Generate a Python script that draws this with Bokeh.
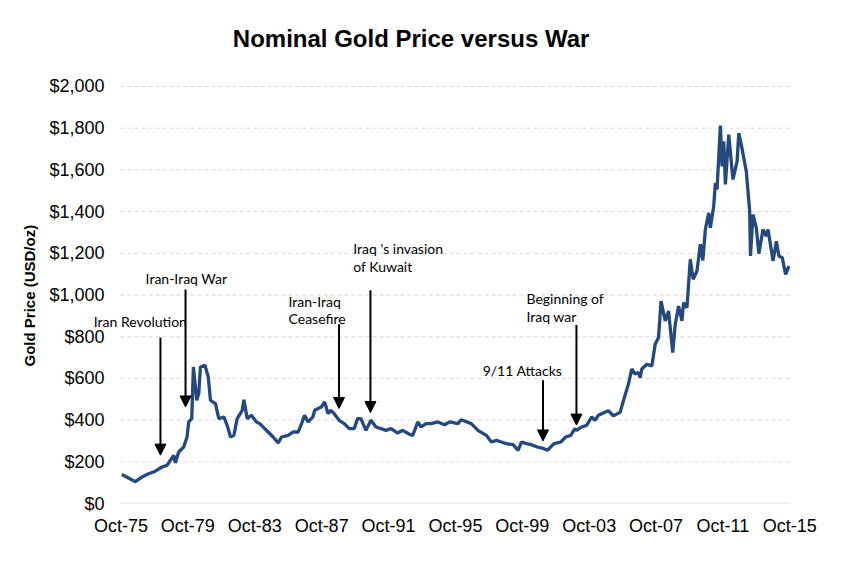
import numpy as np
from bokeh.plotting import figure
from bokeh.models import (Range1d, FixedTicker, NumeralTickFormatter, Label, Title,
                          Arrow, NormalHead, ColumnDataSource)
from bokeh.embed import file_html
from bokeh.resources import INLINE

START_YEAR = 1975.75  # Oct-75, first point of the series

# gold price (decimal year, USD/oz)
years = [
    1975.8, 1976.2, 1976.6, 1977.0, 1977.4, 1977.8, 1978.2, 1978.5, 1978.9, 1979.0,
    1979.2, 1979.5, 1979.7, 1979.8, 1979.98, 1980.08, 1980.28, 1980.4, 1980.5, 1980.77,
    1980.97, 1981.1, 1981.4, 1981.6, 1981.9, 1982.1, 1982.3, 1982.5, 1982.7, 1983.0,
    1983.1, 1983.3, 1983.55, 1983.85, 1984.05, 1984.55, 1984.85, 1985.15, 1985.35, 1985.75,
    1986.05, 1986.35, 1986.55, 1986.73, 1986.94, 1987.23, 1987.33, 1987.73, 1987.93, 1988.13,
    1988.3, 1988.5, 1988.8, 1989.1, 1989.4, 1989.7, 1989.9, 1990.1, 1990.4, 1990.7,
    1991.0, 1991.3, 1991.6, 1991.9, 1992.3, 1992.6, 1993.0, 1993.2, 1993.5, 1993.7,
    1994.0, 1994.3, 1994.7, 1995.1, 1995.4, 1995.9, 1996.1, 1996.7, 1997.1, 1997.6,
    1997.9, 1998.2, 1998.5, 1998.8, 1999.2, 1999.5, 1999.7, 2000.0, 2000.3, 2000.65,
    2001.05, 2001.25, 2001.65, 2002.05, 2002.35, 2002.65, 2002.9, 2003.0, 2003.3, 2003.6,
    2003.9, 2004.1, 2004.3, 2004.9, 2005.2, 2005.6, 2005.8, 2006.1, 2006.3, 2006.5,
    2006.7, 2006.8, 2006.9, 2007.2, 2007.5, 2007.7, 2007.9, 2008.05, 2008.3, 2008.5,
    2008.75, 2008.9, 2009.1, 2009.3, 2009.4, 2009.6, 2009.8, 2009.97, 2010.2, 2010.4,
    2010.55, 2010.7, 2010.9, 2011.0, 2011.2, 2011.3, 2011.4, 2011.6, 2011.7, 2011.8,
    2011.9, 2012.1, 2012.35, 2012.6, 2012.7, 2012.85, 2013.15, 2013.35, 2013.4, 2013.55,
    2013.75, 2013.9, 2014.15, 2014.35, 2014.45, 2014.75, 2014.95, 2015.1, 2015.3, 2015.5,
    2015.7,
]
prices = [
    139, 122, 105, 127, 143, 155, 175, 183, 231, 195,
    247, 271, 319, 391, 407, 655, 495, 527, 655, 663,
    607, 495, 479, 407, 415, 375, 319, 327, 407, 447,
    498, 407, 423, 391, 383, 343, 319, 290, 319, 327,
    343, 343, 383, 423, 391, 415, 447, 463, 487, 431,
    447, 431, 399, 383, 359, 359, 407, 407, 351, 399,
    367, 359, 351, 359, 338, 351, 332, 327, 391, 367,
    383, 383, 391, 378, 391, 383, 402, 383, 351, 327,
    295, 303, 295, 287, 282, 255, 295, 287, 282, 271,
    263, 255, 287, 295, 319, 327, 359, 351, 367, 375,
    415, 399, 423, 445, 421, 437, 493, 573, 645, 621,
    628, 604, 645, 668, 660, 764, 796, 971, 876, 923,
    724, 860, 947, 876, 963, 939, 1171, 1075, 1115, 1243,
    1166, 1314, 1394, 1322, 1426, 1537, 1506, 1813, 1617, 1737,
    1530, 1769, 1554, 1641, 1777, 1721, 1593, 1402, 1187, 1386,
    1322, 1198, 1314, 1282, 1314, 1163, 1258, 1187, 1179, 1099,
    1139,
]

tick_labels = ["Oct-75", "Oct-79", "Oct-83", "Oct-87", "Oct-91", "Oct-95",
               "Oct-99", "Oct-03", "Oct-07", "Oct-11", "Oct-15"]
y_ticks = [0, 200, 400, 600, 800, 1000, 1200, 1400, 1600, 1800, 2000]

# events: text lines, where the text sits (year, price of first line), arrow (year, top, tip)
event_text = [["Iran Revolution"], ["Iran-Iraq War"], ["Iran-Iraq", "Ceasefire"],
              ["Iraq 's invasion", " of Kuwait"], ["9/11 Attacks"], ["Beginning of", "Iraq war"]]
event_text_pos = [(1974.12, 871), (1977.22, 1079), (1985.77, 970),
                  (1989.64, 1223), (1997.38, 639), (2000.0, 983)]
arrow_year = [1978.11, 1979.61, 1988.79, 1990.67, 2000.99, 2002.99]
arrow_top = [796, 1026, 860, 1023, 591, 856]
arrow_tip = [232, 463, 456, 436, 300, 376]

LINE_COLOR = "#23497F"
GRID_COLOR = "#D9D9D9"
LINE_GAP = 85  # price units between two lines of an annotation
PLOT_X0, PLOT_X1 = 1975.72, 2015.8  # extent of the gridlines


def months(year):
    return (np.asarray(year, dtype=float) - START_YEAR) * 12


source = ColumnDataSource(data={'x': months(years), 'price': prices})

# the frame is larger than the gridded area (left and top) so the title and
# "Iran Revolution" can sit inside it without being clipped
p = figure(width=831, height=547, output_backend="svg", toolbar_location=None,
           x_range=Range1d(-23.33, 487.7), y_range=Range1d(0, 2316.5),
           min_border_left=88, min_border_right=31, min_border_top=20, min_border_bottom=44)
p.outline_line_color = None
p.background_fill_color = "white"
p.xgrid.grid_line_color = None
p.ygrid.grid_line_color = None

# gridlines, dashed, and a solid base line at $0
gx0, gx1 = float(months(PLOT_X0)), float(months(PLOT_X1))
grid_y = y_ticks[1:]
p.segment(x0=[gx0] * len(grid_y), y0=grid_y, x1=[gx1] * len(grid_y), y1=grid_y,
          line_color=GRID_COLOR, line_width=1, line_dash="4 3")
p.segment(x0=[gx0], y0=[y_ticks[0]], x1=[gx1], y1=[y_ticks[0]],
          line_color=GRID_COLOR, line_width=1.5)

p.line(x='x', y='price', source=source, line_width=3.3, color=LINE_COLOR)

# x axis
x_ticks = [48 * i for i in range(len(tick_labels))]
p.xaxis.ticker = FixedTicker(ticks=x_ticks)
p.xaxis.major_label_overrides = {t: lab for t, lab in zip(x_ticks, tick_labels)}
p.xaxis.axis_line_color = None
p.xaxis.major_label_standoff = 12

# y axis
p.yaxis.ticker = FixedTicker(ticks=y_ticks)
p.yaxis.formatter = NumeralTickFormatter(format="$0,0")
p.yaxis.axis_line_color = None
p.yaxis.major_label_standoff = -16

for ax in (p.xaxis, p.yaxis):
    ax.major_tick_line_color = None
    ax.minor_tick_line_color = None
    ax.major_tick_out = 0
    ax.major_tick_in = 0
    ax.major_label_text_font = "Liberation Sans"
    ax.major_label_text_font_size = "18px"
    ax.major_label_text_color = "black"

# y axis title, centred on the $0..$2,000 span rather than the whole frame
p.add_layout(Title(text="Gold Price (USD/oz)", align="left", offset=137, standoff=17,
                   text_font="Liberation Sans", text_font_size="15px",
                   text_font_style="bold", text_color="black"), "left")

# chart title
p.add_layout(Label(x=float(months(1993.1)), y=2230, text="Nominal Gold Price versus War",
                   text_font="Liberation Sans", text_font_size="24px", text_font_style="bold",
                   text_color="black", text_align="center", text_baseline="middle"))

# war annotations
for lines, (tx, ty), ax_, top, tip in zip(event_text, event_text_pos, arrow_year, arrow_top, arrow_tip):
    for k, line in enumerate(lines):
        p.add_layout(Label(x=float(months(tx)), y=ty - k * LINE_GAP, text=line,
                           text_font="Lato", text_font_size="14px", text_color="black",
                           text_align="left", text_baseline="middle"))
    p.add_layout(Arrow(x_start=float(months(ax_)), y_start=top, x_end=float(months(ax_)), y_end=tip,
                       line_width=2, line_color="black",
                       end=NormalHead(size=11, fill_color="black", line_color="black")))

open("out.html", "w").write(file_html(p, INLINE))
